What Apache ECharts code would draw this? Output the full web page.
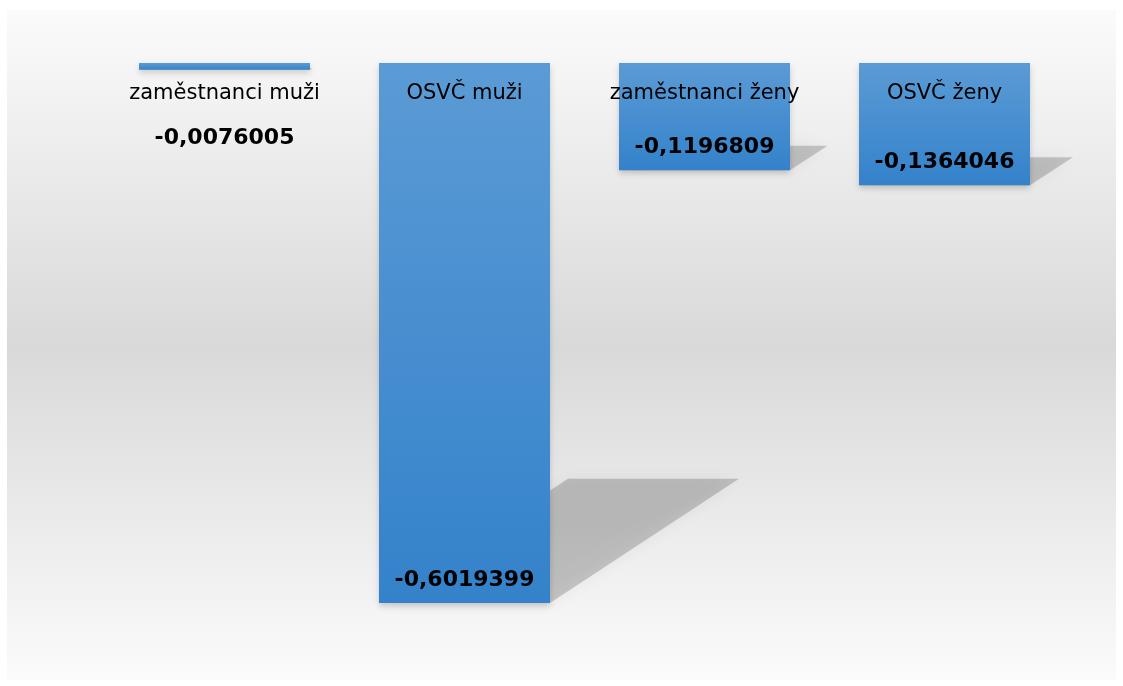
<!DOCTYPE html>
<html>
<head>
<meta charset="utf-8">
<script src="https://cdn.jsdelivr.net/npm/echarts@6/dist/echarts.min.js"></script>
<style>
html, body { margin: 0; padding: 0; background: #ffffff; }
#chart { position: absolute; left: 7px; top: 10px; width: 1109px; height: 670px; }
</style>
</head>
<body>
<div id="chart"></div>
<script>
// data
const categories = ["zaměstnanci muži", "OSVČ muži", "zaměstnanci ženy", "OSVČ ženy"];
const values = [-0.0076005, -0.6019399, -0.1196809, -0.1364046];

const chart = echarts.init(document.getElementById("chart"));

function fmt(v) {
    return String(v).replace(".", ",");
}

// skewed drop shadow under each bar (Excel perspective shadow)
function renderShadow(params, api) {
    const i = api.value(0);
    const v = api.value(1);
    const top = api.coord([i, 0]);
    const bot = api.coord([i, v]);
    const w = api.size([1, 0])[0] * 0.7125;
    const h = bot[1] - top[1];
    const x0 = top[0] - w / 2;
    const y = bot[1];
    return {
        type: "polygon",
        shape: {
            points: [
                [x0, y],
                [x0 + w, y],
                [x0 + w + 0.35 * h, y - 0.23 * h],
                [x0 + 0.35 * h, y - 0.23 * h]
            ]
        },
        style: {
            fill: "rgba(0,0,0,0.18)",
            shadowBlur: 16,
            shadowColor: "rgba(0,0,0,0.25)"
        }
    };
}

chart.setOption({
    backgroundColor: new echarts.graphic.LinearGradient(0, 0, 0, 1, [
        { offset: 0, color: "#fbfbfb" },
        { offset: 0.5, color: "#d9d9d9" },
        { offset: 1, color: "#fbfbfb" }
    ]),
    animation: false,
    grid: {
        left: 97.5,
        width: 960,
        top: 53,
        height: 583
    },
    xAxis: {
        type: "category",
        position: "top",
        data: categories,
        axisLine: { show: false },
        axisTick: { show: false },
        axisLabel: {
            inside: true,
            interval: 0,
            margin: 20,
            fontFamily: "DejaVu Sans",
            fontSize: 21,
            color: "#000000"
        },
        z: 10
    },
    yAxis: {
        type: "value",
        min: -0.65,
        max: 0,
        show: false,
        splitLine: { show: false }
    },
    series: [
        {
            type: "custom",
            renderItem: renderShadow,
            data: values.map((v, i) => [i, v]),
            z: 1,
            silent: true
        },
        {
            type: "bar",
            barWidth: "71.25%",
            data: values.map((v, i) => ({
                value: v,
                label: i === 0
                    ? { position: "bottom", distance: 57 }
                    : { position: "insideBottom", distance: 12 }
            })),
            z: 2,
            itemStyle: {
                color: new echarts.graphic.LinearGradient(0, 0, 0, 1, [
                    { offset: 0, color: "#5b9bd5" },
                    { offset: 1, color: "#3482cb" }
                ]),
                shadowColor: "rgba(0,0,0,0.18)",
                shadowBlur: 6,
                shadowOffsetY: 3
            },
            label: {
                show: true,
                formatter: p => fmt(p.value),
                fontFamily: "DejaVu Sans",
                fontSize: 22,
                fontWeight: "bold",
                color: "#000000"
            }
        }
    ]
});
</script>
</body>
</html>
